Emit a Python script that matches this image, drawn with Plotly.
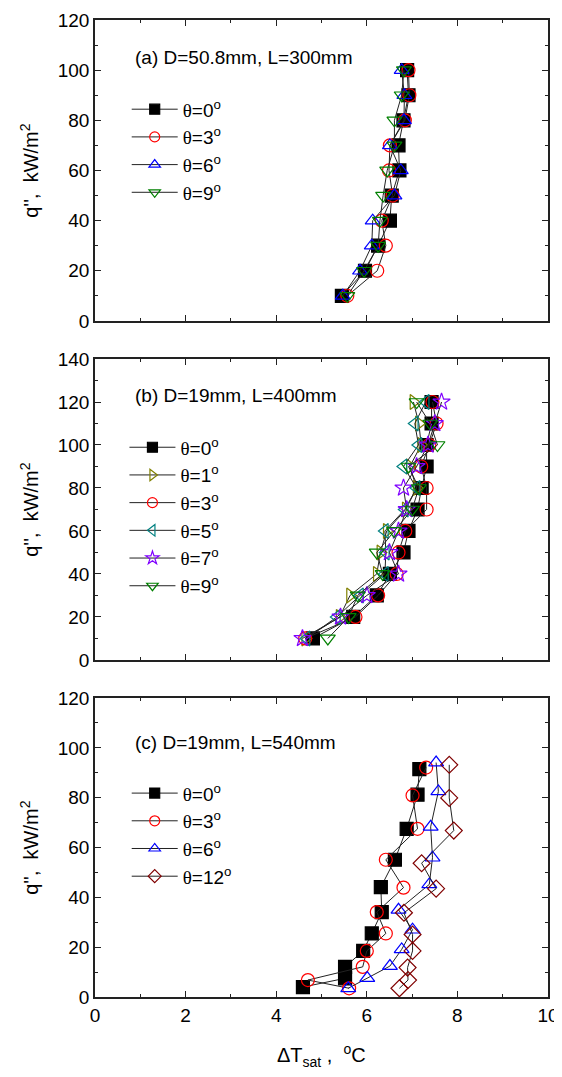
import plotly.graph_objects as go

# ---------------- data ----------------
# Panel (a): D=50.8mm, L=300mm
qa = [10, 20, 30, 40, 50, 60, 70, 80, 90, 100]
a_t0 = [5.45, 5.96, 6.25, 6.51, 6.55, 6.72, 6.70, 6.81, 6.92, 6.89]
a_t3 = [5.57, 6.23, 6.42, 6.33, 6.57, 6.49, 6.51, 6.84, 6.94, 6.92]
a_t6 = [5.47, 5.85, 6.11, 6.13, 6.61, 6.75, 6.51, 6.82, 6.83, 6.77]
a_t9 = [5.57, 5.94, 6.25, 6.29, 6.36, 6.45, 6.61, 6.61, 6.77, 6.82]

# Panel (b): D=19mm, L=400mm
qb = [10, 20, 30, 40, 50, 60, 70, 80, 90, 100, 110, 120]
b_t0 = [4.81, 5.70, 6.22, 6.51, 6.81, 6.92, 7.12, 7.21, 7.32, 7.32, 7.43, 7.43]
b_t1 = [4.64, 5.40, 5.63, 6.22, 6.30, 6.44, 6.86, 7.10, 6.95, 7.20, 7.15, 7.03]
b_t3 = [4.64, 5.75, 6.25, 6.66, 6.70, 6.85, 7.32, 7.32, 7.20, 7.38, 7.54, 7.45]
b_t5 = [4.67, 5.34, 5.85, 6.40, 6.42, 6.40, 6.84, 7.10, 6.81, 7.14, 7.06, 7.30]
b_t7 = [4.58, 5.42, 6.00, 6.70, 6.50, 6.70, 6.88, 6.81, 7.10, 7.35, 7.50, 7.65]
b_t9 = [5.14, 5.60, 5.80, 6.35, 6.22, 6.60, 7.00, 7.15, 6.92, 7.56, 7.40, 7.10]

# Panel (c): D=19mm, L=540mm
c_t0_x = [4.59, 5.52, 5.52, 5.92, 6.11, 6.33, 6.31, 6.62, 6.88, 7.12, 7.16]
c_t0_q = [4.0, 7.5, 12.1, 18.5, 25.5, 34.1, 44.1, 55.1, 67.5, 81.2, 91.5]
c_t3_x = [5.61, 4.70, 5.91, 6.00, 6.42, 6.22, 6.81, 6.42, 7.12, 7.01, 7.31]
c_t3_q = [3.5, 6.8, 12.1, 18.5, 25.5, 34.1, 43.9, 55.1, 67.5, 80.9, 92.1]
c_t6_x = [5.59, 6.01, 6.51, 6.77, 7.01, 6.70, 7.38, 7.45, 7.41, 7.58, 7.53]
c_t6_q = [3.5, 7.6, 12.4, 19.1, 27.0, 35.0, 45.2, 55.9, 68.3, 82.5, 94.1]
c_t12_x = [6.72, 6.91, 6.90, 7.01, 7.01, 6.82, 7.53, 7.21, 7.92, 7.82, 7.82]
c_t12_q = [3.5, 6.8, 11.8, 18.5, 25.1, 33.8, 43.5, 53.7, 66.8, 79.9, 93.2]

x_ticks = [0, 2, 4, 6, 8, 10]

FONT = "Arial, Liberation Sans, sans-serif"
TH = "<span style='font-family:Liberation Serif, Times New Roman, serif'>θ</span>"


def lbl(deg):
    return f"{TH}=<span>{deg}</span><sup>o</sup>"


fig = go.Figure()

LINE = dict(color="#222222", width=1)
MS = 13
LMS = 10


def add(x, y, name, symbol, color, xa, ya, legend):
    # data trace
    fig.add_trace(go.Scatter(
        x=x, y=y, mode="lines+markers", name=name, showlegend=False,
        line=LINE,
        marker=dict(symbol=symbol, size=MS, color=color,
                    line=dict(color=color, width=1.2)),
        xaxis=xa, yaxis=ya,
    ))
    # legend entry (smaller marker, like the reference legend)
    fig.add_trace(go.Scatter(
        x=[None], y=[None], mode="lines+markers", name=name, showlegend=True,
        line=LINE,
        marker=dict(symbol=symbol, size=LMS, color=color,
                    line=dict(color=color, width=1.2)),
        xaxis=xa, yaxis=ya, legend=legend, hoverinfo="skip",
    ))


# Panel (a)
add(a_t0, qa, lbl(0), "square", "black", "x", "y", "legend")
add(a_t3, qa, lbl(3), "circle-open", "#ff0000", "x", "y", "legend")
add(a_t6, qa, lbl(6), "triangle-up-open", "#0000ff", "x", "y", "legend")
add(a_t9, qa, lbl(9), "triangle-down-open", "#008000", "x", "y", "legend")

# Panel (b)
add(b_t0, qb, lbl(0), "square", "black", "x2", "y2", "legend2")
add(b_t1, qb, lbl(1), "triangle-right-open", "#808000", "x2", "y2", "legend2")
add(b_t3, qb, lbl(3), "circle-open", "#ff0000", "x2", "y2", "legend2")
add(b_t5, qb, lbl(5), "triangle-left-open", "#008080", "x2", "y2", "legend2")
add(b_t7, qb, lbl(7), "star-open", "#8000ff", "x2", "y2", "legend2")
add(b_t9, qb, lbl(9), "triangle-down-open", "#008000", "x2", "y2", "legend2")

# Panel (c)
add(c_t0_x, c_t0_q, lbl(0), "square", "black", "x3", "y3", "legend3")
add(c_t3_x, c_t3_q, lbl(3), "circle-open", "#ff0000", "x3", "y3", "legend3")
add(c_t6_x, c_t6_q, lbl(6), "triangle-up-open", "#0000ff", "x3", "y3", "legend3")
add(c_t12_x, c_t12_q, lbl(12), "diamond-open", "#800000", "x3", "y3", "legend3")


def xax(anchor, show_labels):
    return dict(range=[0, 10], tickvals=x_ticks, showticklabels=show_labels,
                ticks="inside", ticklen=6, tickwidth=1.2, tickcolor="#222",
                minor=dict(dtick=1, ticks="inside", ticklen=3, tickcolor="#222"),
                showline=True, linecolor="#222", linewidth=1.6, mirror="ticks",
                showgrid=False, zeroline=False, anchor=anchor, automargin=False,
                tickfont=dict(size=19, family=FONT, color="black"))


def yax(rng, dom, anchor):
    return dict(range=rng, dtick=20, domain=dom,
                ticks="inside", ticklen=6, tickwidth=1.2, tickcolor="#222",
                minor=dict(dtick=10, ticks="inside", ticklen=3, tickcolor="#222"),
                showline=True, linecolor="#222", linewidth=1.6, mirror="ticks",
                showgrid=False, zeroline=False, anchor=anchor, automargin=False,
                tickfont=dict(size=19, family=FONT, color="black"))


dom_a = [0.692, 1.0]
dom_b = [0.345, 0.653]
dom_c = [0.0, 0.306]

fig.update_layout(
    width=554, height=1069,
    margin=dict(l=87, r=14, t=12, b=80, autoexpand=False),
    paper_bgcolor="white", plot_bgcolor="white",
    font=dict(family=FONT, color="black"),
    xaxis=xax("y", False),
    xaxis2=xax("y2", False),
    xaxis3=xax("y3", True),
    yaxis=yax([0, 120], dom_a, "x"),
    yaxis2=yax([0, 140], dom_b, "x2"),
    yaxis3=yax([0, 120], dom_c, "x3"),
    showlegend=True,
)

leg_common = dict(bgcolor="rgba(0,0,0,0)", borderwidth=0,
                  font=dict(size=19, family=FONT, color="black"),
                  xanchor="left", yanchor="top", tracegroupgap=0, itemwidth=46)
fig.update_layout(
    legend=dict(x=0.07, y=0.928, **leg_common),
    legend2=dict(x=0.065, y=0.582, **leg_common),
    legend3=dict(x=0.07, y=0.228, **leg_common),
)

ann_font = dict(size=19, family=FONT, color="black")
fig.add_annotation(x=0.84, y=105, xref="x", yref="y", text="(a) D=50.8mm, L=300mm",
                   showarrow=False, xanchor="left", yanchor="middle", font=ann_font)
fig.add_annotation(x=0.84, y=123, xref="x2", yref="y2", text="(b) D=19mm, L=400mm",
                   showarrow=False, xanchor="left", yanchor="middle", font=ann_font)
fig.add_annotation(x=0.84, y=102, xref="x3", yref="y3", text="(c) D=19mm, L=540mm",
                   showarrow=False, xanchor="left", yanchor="middle", font=ann_font)

ytitle = "q'',  kW/m<sup>2</sup>"
for yc in [(dom_a[0] + dom_a[1]) / 2, (dom_b[0] + dom_b[1]) / 2, (dom_c[0] + dom_c[1]) / 2]:
    fig.add_annotation(x=-0.145, y=yc, xref="paper", yref="paper", text=ytitle,
                       textangle=-90, showarrow=False, xanchor="center", yanchor="middle",
                       font=dict(size=20, family=FONT, color="black"))

fig.add_annotation(x=0.5, y=-0.06, xref="paper", yref="paper",
                   text="ΔT<sub>sat</sub> ,  <sup>o</sup>C", showarrow=False,
                   xanchor="center", yanchor="middle",
                   font=dict(size=20, family=FONT, color="black"))

fig.write_html("out.html")
